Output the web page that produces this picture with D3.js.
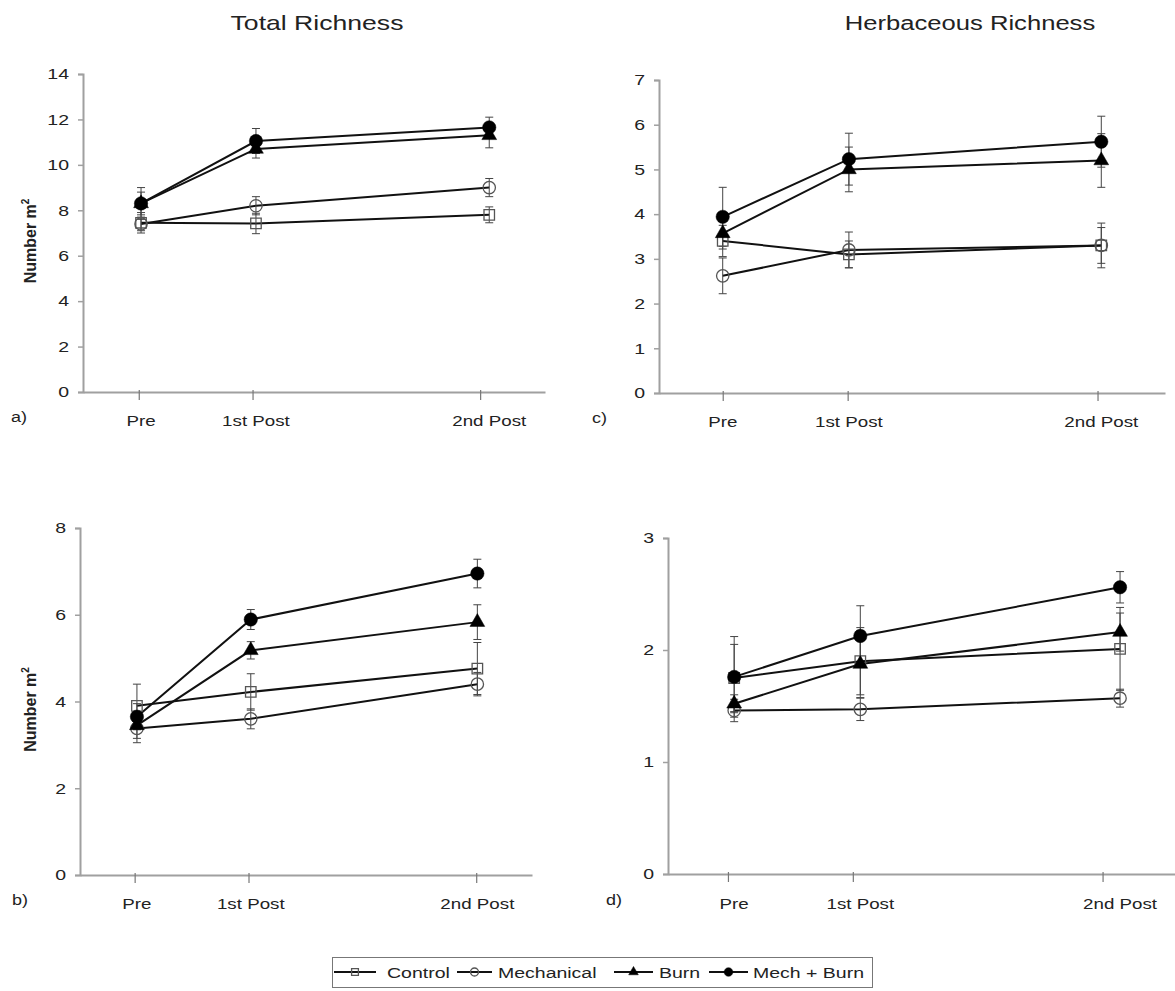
<!DOCTYPE html>
<html><head><meta charset="utf-8">
<script src="https://cdn.jsdelivr.net/npm/d3@7"></script>
<style>
body{margin:0;background:#fff;}
svg{display:block;font-family:"Liberation Sans",Arial,sans-serif;}
</style></head>
<body><svg id="c" width="1175" height="991"></svg>
<script>
// ---------- data ----------
const periods = ["Pre", "1st Post", "2nd Post"];
const periodTime = [0, 1, 3];
const treatments = ["Control", "Mechanical", "Burn", "Mech + Burn"];
const symbolsFor = ["square", "circle", "triangle", "dot"];

// panel a) Total Richness (top)
const aTime = [0.02, 1.03, 3.08];
const aControl = [7.45, 7.42, 7.8],  aControlSE = [0.45, 0.45, 0.35];
const aMech    = [7.4, 8.2, 9.0],    aMechSE    = [0.3, 0.4, 0.4];
const aBurn    = [8.3, 10.7, 11.3],  aBurnSE    = [0.5, 0.4, 0.55];
const aMB      = [8.3, 11.05, 11.65],aMBSE      = [0.7, 0.55, 0.45];
const aTicks = [0, 2, 4, 6, 8, 10, 12, 14];

// panel b) Total Richness (bottom)
const bTime = [0.02, 1.02, 3.01];
const bControl = [3.9, 4.22, 4.76],  bControlSE = [0.5, 0.42, 0.6];
const bMech    = [3.38, 3.6, 4.4],   bMechSE    = [0.33, 0.23, 0.27];
const bBurn    = [3.45, 5.18, 5.83], bBurnSE    = [0.3, 0.2, 0.4];
const bMB      = [3.65, 5.89, 6.95], bMBSE      = [0.3, 0.23, 0.33];
const bTicks = [0, 2, 4, 6, 8];

// panel c) Herbaceous Richness (top)
const cTime = [0.0, 1.01, 3.03];
const cControl = [3.4, 3.1, 3.3],    cControlSE = [0.35, 0.3, 0.5];
const cMech    = [2.62, 3.2, 3.3],   cMechSE    = [0.4, 0.4, 0.4];
const cBurn    = [3.57, 5.0, 5.2],   cBurnSE    = [0.35, 0.5, 0.6];
const cMB      = [3.94, 5.23, 5.62], cMBSE      = [0.66, 0.58, 0.57];
const cTicks = [0, 1, 2, 3, 4, 5, 6, 7];

// panel d) Herbaceous Richness (bottom)
const dTime = [0.05, 1.06, 3.14];
const dControl = [1.75, 1.9, 2.01],   dControlSE = [0.3, 0.3, 0.37];
const dMech    = [1.46, 1.47, 1.57],  dMechSE    = [0.1, 0.1, 0.08];
const dBurn    = [1.52, 1.875, 2.16], dBurnSE    = [0.08, 0.3, 0.17];
const dMB      = [1.76, 2.125, 2.56], dMBSE      = [0.36, 0.27, 0.14];
const dTicks = [0, 1, 2, 3];

const titles = ["Total Richness", "Herbaceous Richness"];
const yLabel = "Number m";

// ---------- layout ----------
const svg = d3.select("#c");
const STRETCH = 1.3;

function stretchedText(g, x, y, str, opts) {
  return g.append("text")
    .attr("transform", `translate(${x},${y}) scale(${opts.k || STRETCH},1)`)
    .attr("text-anchor", opts.anchor || "start")
    .attr("font-size", opts.size || 15)
    .attr("font-weight", opts.weight || "normal")
    .attr("fill", opts.fill || "#222")
    .text(str);
}

const panels = [
  {id:"a", time:aTime, series:[[aControl,aControlSE],[aMech,aMechSE],[aBurn,aBurnSE],[aMB,aMBSE]],
   ticks:aTicks, ymax:14, xr:[83,545], xd:[-0.49,3.57], yr:[392,74], ylab:true, labY:426, letter:[11,422]},
  {id:"b", time:bTime, series:[[bControl,bControlSE],[bMech,bMechSE],[bBurn,bBurnSE],[bMB,bMBSE]],
   ticks:bTicks, ymax:8, xr:[80,532], xd:[-0.48,3.49], yr:[875,528], ylab:true, labY:909, letter:[12,905]},
  {id:"c", time:cTime, series:[[cControl,cControlSE],[cMech,cMechSE],[cBurn,cBurnSE],[cMB,cMBSE]],
   ticks:cTicks, ymax:7, xr:[659,1165], xd:[-0.51,3.54], yr:[393,80], ylab:false, labY:427, letter:[592,423]},
  {id:"d", time:dTime, series:[[dControl,dControlSE],[dMech,dMechSE],[dBurn,dBurnSE],[dMB,dMBSE]],
   ticks:dTicks, ymax:3, xr:[668,1175], xd:[-0.48,3.58], yr:[874,538], ylab:false, labY:909, letter:[606,905]}
];

const symType = {square:d3.symbolSquare, circle:d3.symbolCircle, triangle:d3.symbolTriangle, dot:d3.symbolCircle};
const symSize = {square:110, circle:120, triangle:95, dot:140};
function drawMarker(g, kind, x, y, scale) {
  const s = scale || 1;
  const p = g.append("path")
    .attr("d", d3.symbol().type(symType[kind]).size(symSize[kind]*s*s)())
    .attr("transform", `translate(${x},${y})`);
  if (kind === "square" || kind === "circle") {
    p.attr("fill", "none").attr("stroke", "#555").attr("stroke-width", 1.3);
  } else {
    p.attr("fill", "#000").attr("stroke", "#000").attr("stroke-width", 0.5);
  }
}

panels.forEach(P => {
  const g = svg.append("g");
  const x = d3.scaleLinear().domain(P.xd).range(P.xr);
  const y = d3.scaleLinear().domain([0, P.ymax]).range(P.yr);

  // y axis
  const ya = g.append("g").attr("transform", `translate(${P.xr[0]},0)`)
    .call(d3.axisLeft(y).tickValues(P.ticks).tickFormat(d3.format("d")).tickSize(5).tickPadding(14));
  ya.select(".domain").attr("stroke", "#a0a0a0").attr("stroke-width", 2);
  ya.selectAll(".tick line").attr("stroke", "#a0a0a0").attr("stroke-width", 1.5);
  ya.selectAll(".tick text").attr("font-size", 15).attr("fill", "#222")
    .attr("font-family", "Liberation Sans, Arial, sans-serif")
    .attr("x", -14 / STRETCH).attr("transform", `scale(${STRETCH},1)`);

  // x axis
  const xa = g.append("g").attr("transform", `translate(0,${P.yr[0]})`)
    .call(d3.axisBottom(x).tickValues(periodTime).tickFormat("").tickSizeOuter(0).tickSizeInner(8));
  xa.select(".domain").attr("stroke", "#a0a0a0").attr("stroke-width", 2);
  xa.selectAll(".tick line").attr("stroke", "#777").attr("stroke-width", 1.2).attr("y1", -2);

  // category labels
  periods.forEach((p, i) => {
    stretchedText(g, x(P.time[i]), P.labY, p, {anchor:"middle", size:15, k:1.25});
  });

  // panel letter
  stretchedText(g, P.letter[0], P.letter[1], P.id + ")", {size:15, k:1.2});

  // lines
  const line = d3.line().x((d, i) => x(P.time[i])).y(d => y(d));
  P.series.forEach(([vals]) => {
    g.append("path").datum(vals).attr("d", line)
      .attr("fill", "none").attr("stroke", "#111").attr("stroke-width", 2);
  });

  // error bars
  P.series.forEach(([vals, se]) => {
    vals.forEach((v, i) => {
      const cx = x(P.time[i]);
      const y1 = y(v - se[i]), y2 = y(v + se[i]);
      g.append("line").attr("x1", cx).attr("x2", cx).attr("y1", y1).attr("y2", y2)
        .attr("stroke", "#444").attr("stroke-width", 1);
      [y1, y2].forEach(yy => g.append("line").attr("x1", cx - 4).attr("x2", cx + 4)
        .attr("y1", yy).attr("y2", yy).attr("stroke", "#444").attr("stroke-width", 1));
    });
  });

  // markers
  P.series.forEach(([vals], si) => {
    vals.forEach((v, i) => drawMarker(g, symbolsFor[si], x(P.time[i]), y(v)));
  });

  // y label
  if (P.ylab) {
    const cy = (P.yr[0] + P.yr[1]) / 2 + 8;
    const t = g.append("text")
      .attr("transform", `translate(36,${cy}) rotate(-90)`)
      .attr("text-anchor", "middle").attr("font-size", 16).attr("font-weight", "bold").attr("fill", "#222");
    t.append("tspan").text(yLabel);
    t.append("tspan").attr("dy", -7).attr("font-size", 10).text("2");
  }
});

// titles
stretchedText(svg, 317, 30, titles[0], {anchor:"middle", size:20, k:1.33});
stretchedText(svg, 970, 30, titles[1], {anchor:"middle", size:20, k:1.28});

// legend
const lg = svg.append("g");
lg.append("rect").attr("x", 332.5).attr("y", 957.5).attr("width", 540).attr("height", 30)
  .attr("fill", "#fff").attr("stroke", "#777").attr("stroke-width", 1);
const legPos = [[334, 376, 387], [457, 492, 498], [614, 653, 659], [709, 748, 753]];
treatments.forEach((name, i) => {
  const [x1, x2, tx] = legPos[i];
  lg.append("line").attr("x1", x1).attr("x2", x2).attr("y1", 972).attr("y2", 972)
    .attr("stroke", "#111").attr("stroke-width", 2);
  drawMarker(lg, symbolsFor[i], (x1 + x2) / 2, 972, 0.65);
  stretchedText(lg, tx, 978, name, {size:15, k:1.3});
});
</script></body></html>
